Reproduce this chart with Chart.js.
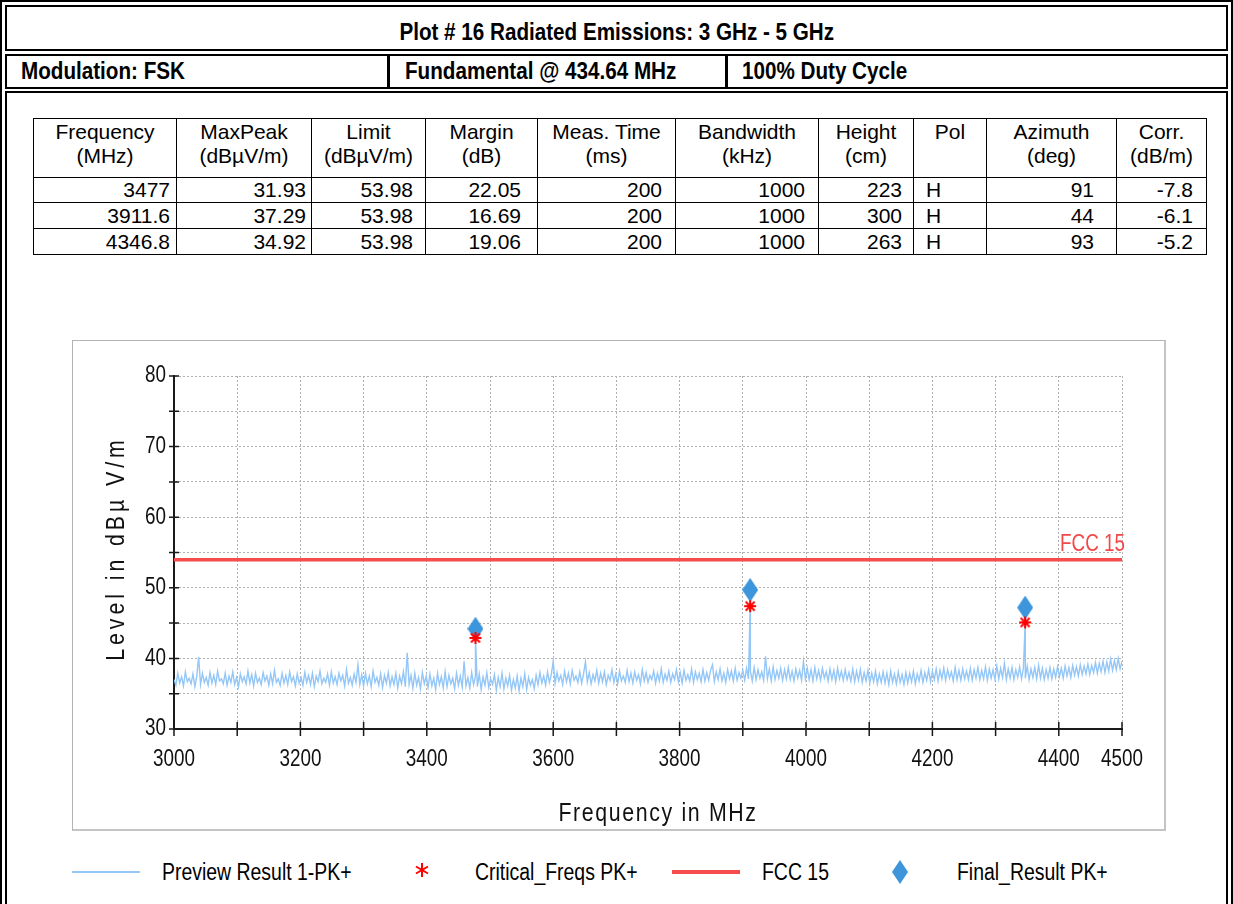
<!DOCTYPE html>
<html><head><meta charset="utf-8">
<script src="https://cdn.jsdelivr.net/npm/chart.js@4.4.1/dist/chart.umd.min.js"></script>
<style>
html,body{margin:0;padding:0;background:#fff;}
body{width:1233px;height:904px;position:relative;overflow:hidden;font-family:'Liberation Sans',Arial,sans-serif;color:#000;}
.abs{position:absolute;box-sizing:border-box;}
.hdr{font-weight:bold;font-size:24px;line-height:24px;white-space:nowrap;}
.hdr span{display:inline-block;transform:scaleX(0.86);transform-origin:left center;}
.hdr.c span{transform-origin:center center;}
table.res{position:absolute;left:33px;top:118px;border-collapse:collapse;table-layout:fixed;width:1173px;font-size:21px;}
table.res td{border:1px solid #000;padding:0 7px 0 4px;white-space:nowrap;overflow:hidden;}
table.res tr.h td{text-align:center;height:57px;line-height:24px;vertical-align:top;padding:1px 0 0 0;}
table.res tr.d td{text-align:right;line-height:24px;vertical-align:middle;}
table.res tr.d td.l{text-align:left;padding-left:12px;}
.leg{font-size:23px;line-height:24px;white-space:nowrap;}
.leg span{display:inline-block;transform:scaleX(0.845);transform-origin:left center;}
</style></head>
<body>
<div class="abs" style="left:0;top:0;width:1233px;height:960px;border:2px solid #000;"></div>
<div class="abs" style="left:5px;top:5px;width:1223px;height:46px;border:2px solid #000;"></div>
<div class="abs hdr c" style="left:5px;top:20px;width:1223px;text-align:center;"><span>Plot # 16 Radiated Emissions: 3 GHz - 5 GHz</span></div>
<div class="abs" style="left:5px;top:54px;width:1223px;height:35px;border:2px solid #000;"></div>
<div class="abs" style="left:387px;top:54px;width:3px;height:35px;background:#000;"></div>
<div class="abs" style="left:725px;top:54px;width:3px;height:35px;background:#000;"></div>
<div class="abs hdr" style="left:21px;top:59px;"><span>Modulation: FSK</span></div>
<div class="abs hdr" style="left:405px;top:59px;"><span>Fundamental @ 434.64 MHz</span></div>
<div class="abs hdr" style="left:742px;top:59px;"><span>100% Duty Cycle</span></div>
<div class="abs" style="left:5px;top:91px;width:1223px;height:900px;border:2px solid #000;"></div>

<table class="res">
<colgroup><col style="width:143px"><col style="width:135px"><col style="width:114px"><col style="width:112px"><col style="width:138px"><col style="width:143px"><col style="width:95px"><col style="width:73px"><col style="width:130px"><col style="width:90px"></colgroup>
<tbody id="tb"></tbody>
</table>

<div class="abs" style="left:72px;top:340px;width:1094px;height:491px;border:1px solid #b4b4b4;border-right:2px solid #c4c4c4;border-bottom:2px solid #c4c4c4;"></div>
<canvas id="c" width="1092" height="489" style="position:absolute;left:73px;top:341px;"></canvas>

<div class="abs" style="left:72px;top:871px;width:68px;height:2px;background:#94c6f7;"></div>
<div class="abs leg" style="left:162px;top:860px;"><span>Preview Result 1-PK+</span></div>
<svg class="abs" style="left:414px;top:862px;" width="16" height="16" viewBox="0 0 16 16"><g stroke="#ff0000" stroke-width="2"><line x1="8" y1="1" x2="8" y2="15"/><line x1="2" y1="4.5" x2="14" y2="11.5"/><line x1="2" y1="11.5" x2="14" y2="4.5"/></g></svg>
<div class="abs leg" style="left:475px;top:860px;"><span>Critical_Freqs PK+</span></div>
<div class="abs" style="left:672px;top:870px;width:68px;height:4px;background:#f64c4c;"></div>
<div class="abs leg" style="left:762px;top:860px;"><span>FCC 15</span></div>
<svg class="abs" style="left:892px;top:860px;" width="16" height="24" viewBox="0 0 16 24"><path d="M8 0 L16 12 L8 24 L0 12 Z" fill="#3d95dc"/></svg>
<div class="abs leg" style="left:957px;top:860px;"><span>Final_Result PK+</span></div>

<script>
// ---------- table data ----------
const tableHeaders = ["Frequency<br>(MHz)","MaxPeak<br>(dBµV/m)","Limit<br>(dBµV/m)","Margin<br>(dB)","Meas. Time<br>(ms)","Bandwidth<br>(kHz)","Height<br>(cm)","Pol","Azimuth<br>(deg)","Corr.<br>(dB/m)"];
const tFrequency = ["3477","3911.6","4346.8"];
const tMaxPeak = ["31.93","37.29","34.92"];
const tLimit = ["53.98","53.98","53.98"];
const tMargin = ["22.05","16.69","19.06"];
const tMeasTime = ["200","200","200"];
const tBandwidth = ["1000","1000","1000"];
const tHeight = ["223","300","263"];
const tPol = ["H","H","H"];
const tAzimuth = ["91","44","93"];
const tCorr = ["-7.8","-6.1","-5.2"];

// ---------- chart data ----------
const previewStartMHz = 3000;
const previewStepMHz = 3;
const previewLevels = [
 37.0,36.2,37.9,36.5,37.4,36.1,38.1,36.7,37.2,36.4,37.8,36.0,37.5,40.2,36.3,37.9,36.6,37.3,36.2,38.0,
 36.5,37.6,36.3,38.2,36.8,37.1,36.4,37.9,36.2,37.5,36.6,38.1,36.3,37.3,36.0,37.8,36.7,37.4,36.4,38.2,
 36.5,37.7,36.1,37.9,36.6,37.2,36.3,38.0,36.8,37.5,36.2,37.8,36.4,38.3,36.6,37.1,36.2,37.9,36.5,37.6,
 36.3,38.1,36.7,37.4,36.1,37.8,36.5,37.3,36.2,38.0,36.6,37.6,36.3,37.9,36.0,37.5,36.7,38.2,36.4,37.2,
 36.6,37.8,36.2,38.1,36.5,37.4,36.3,37.9,36.8,37.6,36.1,38.4,36.5,37.3,36.2,37.8,36.6,39.1,36.3,37.7,
 36.1,37.9,36.4,37.5,36.0,38.2,36.6,37.3,36.2,37.8,35.9,37.6,36.5,38.0,36.1,37.4,36.3,37.9,35.8,37.5,
 36.4,38.1,36.0,40.8,36.3,37.6,35.8,37.9,36.2,37.3,35.7,38.0,36.4,37.5,35.9,37.8,36.1,37.2,35.6,37.9,
 36.3,37.4,35.8,38.1,36.0,37.6,36.4,37.2,35.7,37.9,36.2,37.5,35.9,39.6,36.1,37.3,35.8,38.0,36.3,37.5,
 36.0,37.8,35.6,37.4,36.2,38.0,35.9,37.1,36.3,37.7,35.5,37.3,36.0,37.9,35.7,37.2,36.1,37.6,35.5,37.0,
 35.8,37.5,35.4,37.2,36.0,37.8,35.6,37.3,36.2,37.0,35.7,37.6,36.3,38.0,36.5,37.5,36.2,38.1,36.6,37.7,
 39.6,36.5,38.0,36.8,37.6,36.3,38.2,36.7,37.9,36.4,38.3,36.9,37.5,36.6,38.1,36.5,37.8,39.5,36.7,38.0,
 36.4,37.7,36.8,38.3,36.5,37.9,36.7,38.1,36.3,37.6,36.9,38.4,36.6,37.8,36.4,38.2,36.8,37.5,36.6,38.3,
 36.7,37.9,36.5,38.1,36.9,37.7,36.4,38.4,36.8,38.0,36.6,37.6,37.0,38.2,36.5,37.9,36.8,38.5,36.6,37.8,
 36.9,38.2,36.6,37.8,37.0,38.4,36.7,38.0,36.5,38.3,36.9,37.7,36.8,38.5,36.6,38.1,37.0,37.9,36.7,38.4,
 36.8,38.0,36.9,38.3,39.1,36.7,38.1,37.0,38.5,36.8,37.9,36.6,38.4,37.1,38.2,36.8,38.6,36.9,38.0,37.2,
 38.3,36.9,38.6,37.1,38.2,36.8,38.7,37.0,38.4,37.2,38.1,36.9,40.3,37.1,38.5,36.8,38.8,37.0,38.3,37.2,
 38.6,36.9,38.4,37.1,38.7,37.0,38.2,36.8,38.5,37.2,38.3,36.9,39.6,37.1,38.6,37.0,38.4,36.8,38.7,37.1,
 38.3,36.9,38.6,37.2,38.1,36.8,38.5,37.0,38.3,36.7,38.6,37.1,38.2,36.9,38.4,37.0,38.0,36.8,38.5,36.7,
 38.2,36.9,38.4,36.6,38.0,36.8,38.3,36.5,37.9,36.7,38.2,36.4,37.8,36.6,38.1,36.5,37.9,36.3,38.2,36.6,
 37.8,36.4,38.1,36.6,37.7,36.3,38.0,36.5,37.9,36.7,38.2,36.4,37.8,36.8,38.3,36.6,38.0,36.9,38.4,36.7,
 38.2,37.0,38.5,36.8,38.3,37.1,38.6,36.9,38.4,37.2,38.1,36.8,38.7,37.0,38.3,36.9,38.5,37.1,38.2,37.0,
 38.6,36.9,38.4,37.2,38.7,37.0,38.3,37.1,38.8,36.9,38.5,37.2,38.4,37.0,38.9,37.1,38.6,37.3,39.3,37.0,
 38.5,37.2,38.7,37.0,38.4,37.3,38.8,37.1,38.6,37.2,38.9,37.0,38.5,37.3,38.7,37.1,39.0,37.2,38.6,37.0,
 38.4,37.2,38.7,37.1,38.5,37.3,38.8,37.4,38.6,37.2,38.9,37.5,38.7,37.3,39.0,37.6,38.8,37.5,39.1,37.7,
 38.9,37.8,39.2,37.7,39.0,38.0,39.4,37.9,39.3,38.1,39.6,38.0,39.5,38.2,39.9,38.3,39.7,38.4,40.0,38.5,
 39.6
];
const criticalFreqs = [3477, 3911.6, 4346.8];
const criticalLevels = [42.9, 47.4, 45.1];
const finalFreqs = [3477, 3911.6, 4346.8];
const finalLevels = [44.2, 49.7, 47.2];
const limitFreqs = [3000, 4500];
const limitLevels = [53.98, 53.98];
const xTickLabels = [3000, 3200, 3400, 3600, 3800, 4000, 4200, 4400, 4500];
const yTickLabels = [30, 40, 50, 60, 70, 80];
const xTitle = 'Frequency in MHz';
const yTitle = 'Level in dBµ V/m';
const limitName = 'FCC 15';

// ---------- build table ----------
(function(){
  const padR = [6,5,12,16,13,13,11,0,22,13];
  const tb = document.getElementById('tb');
  let html = '<tr class="h">' + tableHeaders.map(h=>'<td>'+h+'</td>').join('') + '</tr>';
  const hts = [25,26,26];
  for (let i=0;i<tFrequency.length;i++){
    const vals = [tFrequency[i],tMaxPeak[i],tLimit[i],tMargin[i],tMeasTime[i],tBandwidth[i],tHeight[i],tPol[i],tAzimuth[i],tCorr[i]];
    html += '<tr class="d" style="height:'+hts[i]+'px">' + vals.map((v,j)=> j===7 ? '<td class="l">'+v+'</td>' : '<td style="padding-right:'+padR[j]+'px">'+v+'</td>').join('') + '</tr>';
  }
  tb.innerHTML = html;
})();

// ---------- build chart ----------
const previewData = previewLevels.map((v,i)=>({x: previewStartMHz + i*previewStepMHz, y: v}));
criticalFreqs.forEach((f,i)=>previewData.push({x:f, y:criticalLevels[i]}));
previewData.sort((a,b)=>a.x-b.x);

function makeDiamond(){
  const c=document.createElement('canvas'); c.width=16; c.height=24;
  const g=c.getContext('2d'); g.fillStyle='#3d95dc';
  g.beginPath(); g.moveTo(8,0); g.lineTo(16,12); g.lineTo(8,24); g.lineTo(0,12); g.closePath(); g.fill();
  return c;
}
function makeStar(){
  const c=document.createElement('canvas'); c.width=14; c.height=14;
  const g=c.getContext('2d'); g.strokeStyle='#ff0000'; g.lineWidth=2;
  g.beginPath();
  g.moveTo(7,1); g.lineTo(7,13);
  g.moveTo(1,7); g.lineTo(13,7);
  g.moveTo(2.5,2.5); g.lineTo(11.5,11.5);
  g.moveTo(11.5,2.5); g.lineTo(2.5,11.5);
  g.stroke();
  return c;
}

const REG = "'Liberation Sans',Arial,sans-serif";
function narrowText(ctx, text, x, y, size, align, sx, color, ls, rot){
  ctx.save();
  ctx.translate(x, y);
  if (rot) ctx.rotate(rot);
  ctx.scale(sx, 1);
  ctx.font = size + 'px ' + REG;
  ctx.fillStyle = color;
  ctx.textAlign = align;
  ctx.textBaseline = 'middle';
  if (ls) { try { ctx.letterSpacing = ls + 'px'; } catch(e){} }
  ctx.fillText(text, 0, 0);
  ctx.restore();
}

const axisDeco = {
  id:'axisDeco',
  afterDatasetsDraw(chart){
    const {ctx, scales:{x,y}} = chart;
    narrowText(ctx, limitName, x.getPixelForValue(limitFreqs[1]) + 3, y.getPixelForValue(limitLevels[1]) - 15, 23, 'right', 0.82, '#f24848');
  },
  afterDraw(chart){
    const {ctx, chartArea:a, scales:{x,y}} = chart;
    ctx.save();
    ctx.strokeStyle='#1a1a1a'; ctx.lineWidth=1.5;
    ctx.beginPath();
    y.ticks.forEach(t=>{const py=y.getPixelForValue(t.value); ctx.moveTo(a.left-5,py); ctx.lineTo(a.left+5,py);});
    x.ticks.forEach(t=>{const px=x.getPixelForValue(t.value); ctx.moveTo(px,a.bottom-7); ctx.lineTo(px,a.bottom+7);});
    ctx.stroke();
    ctx.restore();
    // tick labels
    xTickLabels.forEach(v=>narrowText(ctx, String(v), x.getPixelForValue(v), a.bottom + 31, 23, 'center', 0.82, '#111'));
    yTickLabels.forEach(v=>narrowText(ctx, String(v), a.left - 8, y.getPixelForValue(v), 23, 'right', 0.82, '#111'));
    // axis titles
    narrowText(ctx, xTitle, (a.left + a.right)/2 + 10, a.bottom + 85, 26, 'center', 0.82, '#111', 2);
    narrowText(ctx, yTitle, 44, (a.top + a.bottom)/2 - 4, 26, 'center', 0.82, '#111', 4.8, -Math.PI/2);
  }
};

new Chart(document.getElementById('c'), {
  type:'line',
  data:{datasets:[
    {label:'Critical_Freqs PK+', data:criticalFreqs.map((f,i)=>({x:f,y:criticalLevels[i]})), showLine:false, pointStyle:makeStar(), pointRadius:7, order:0},
    {label:'Final_Result PK+', data:finalFreqs.map((f,i)=>({x:f,y:finalLevels[i]})), showLine:false, pointStyle:makeDiamond(), pointRadius:10, order:1},
    {label:limitName, data:limitFreqs.map((f,i)=>({x:f,y:limitLevels[i]})), borderColor:'#f64c4c', borderWidth:3.5, pointRadius:0, order:2},
    {label:'Preview Result 1-PK+', data:previewData, borderColor:'#94c7f8', borderWidth:1.4, pointRadius:0, tension:0, order:3}
  ]},
  options:{
    responsive:false, animation:false, devicePixelRatio:1,
    layout:{padding:{top:35, right:43, left:0, bottom:0}},
    plugins:{legend:{display:false}, tooltip:{enabled:false}},
    scales:{
      x:{type:'linear', min:3000, max:4500,
        afterFit(s){ s.height = 101; },
        ticks:{stepSize:100, autoSkip:false, maxRotation:0, display:false},
        grid:{color:'#b0b0b0', lineWidth:1, drawTicks:false},
        border:{color:'#1a1a1a', width:2, dash:[2,2]},
        title:{display:false}
      },
      y:{type:'linear', min:30, max:80,
        afterFit(s){ s.width = 101; },
        ticks:{stepSize:5, autoSkip:false, display:false},
        grid:{color:'#b0b0b0', lineWidth:1, drawTicks:false},
        border:{color:'#1a1a1a', width:2, dash:[2,2]},
        title:{display:false}
      }
    }
  },
  plugins:[axisDeco]
});
</script>
</body></html>
